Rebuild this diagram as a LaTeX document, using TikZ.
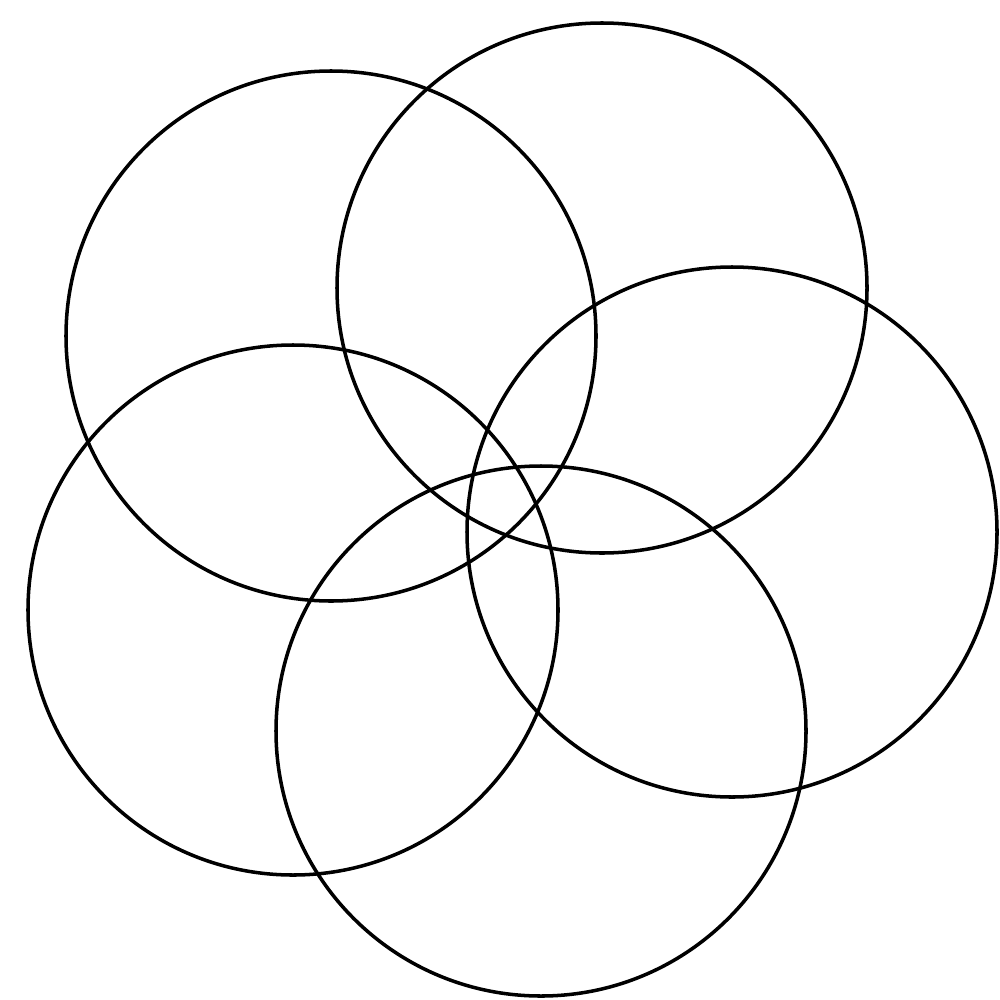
\documentclass[tikz,border=0pt]{standalone}
\begin{document}
\begin{tikzpicture}[x=0.01cm,y=-0.01cm,
  ring/.style={draw=black,line width=1pt}]
\useasboundingbox (0,0) rectangle (1000,1000);
\draw[ring] (331,336) circle[radius=265];
\draw[ring] (602,288) circle[radius=265];
\draw[ring] (732,532) circle[radius=265];
\draw[ring] (541,731) circle[radius=265];
\draw[ring] (293,610) circle[radius=265];
\end{tikzpicture}
\end{document}
